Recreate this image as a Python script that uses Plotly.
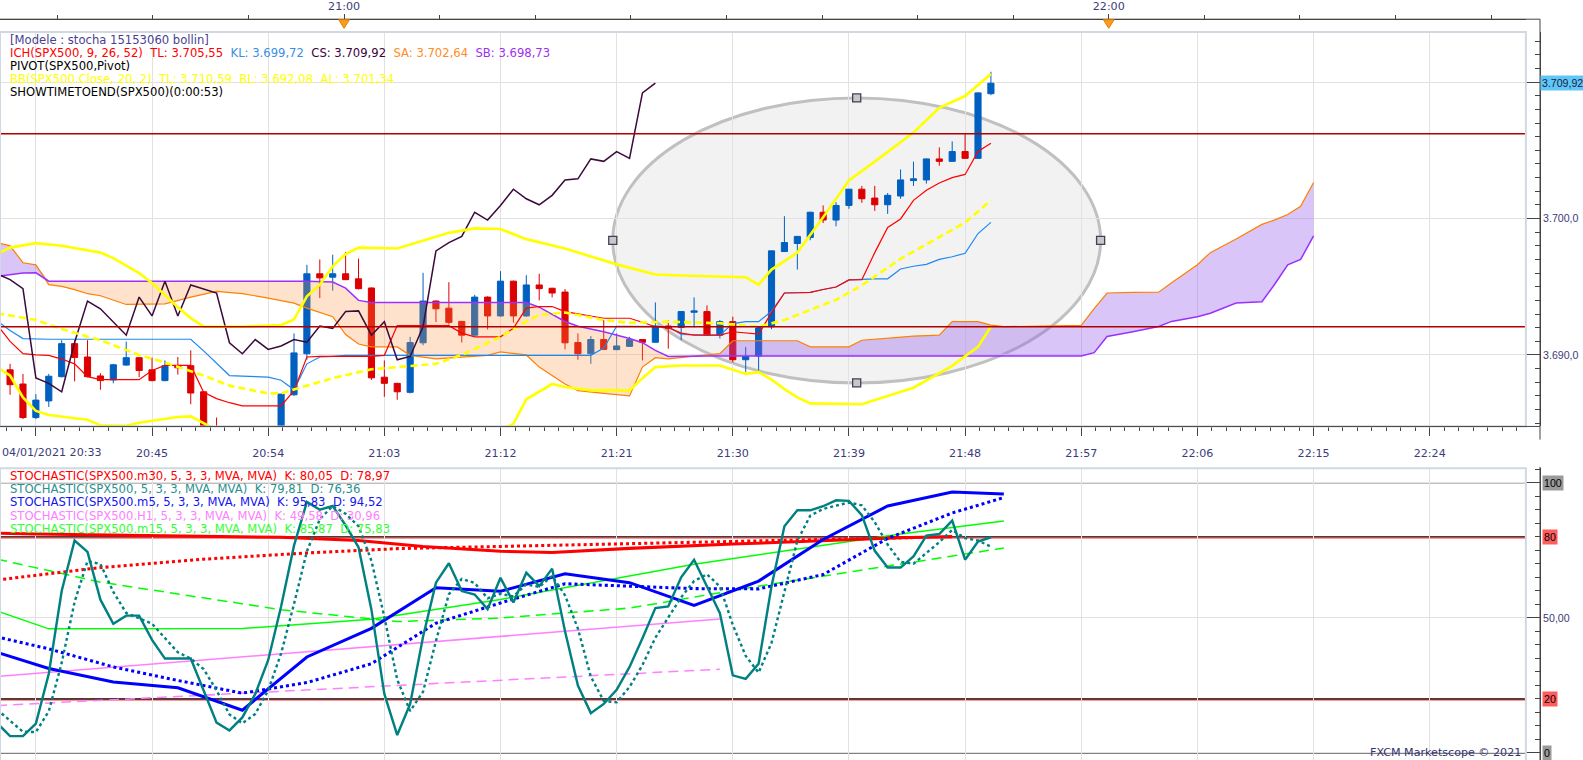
import plotly.graph_objects as go

# ---------------------------------------------------------------- data
# x values are minutes after 20:00, one candle per minute (20:33 .. 21:50)
bar_min = list(range(33, 111))

opens = [3688.69, 3688.91, 3687.87, 3685.41, 3686.63, 3688.41, 3690.83, 3689.85, 3688.46, 3688.17,
         3689.26, 3689.80, 3688.91, 3688.12, 3689.23, 3689.21, 3687.30, 3684.50, None, None,
         None, None, 3684.30, 3687.08, 3690.09, 3695.95, 3695.70, 3695.95, 3695.58, 3694.91,
         3688.37, 3687.92, 3687.26, 3690.89, 3693.95, 3693.43, 3692.46, 3691.45, 3694.24, 3692.86,
         3695.41, 3692.86, 3695.13, 3694.89, 3694.61, 3690.91, 3690.09, 3691.13, 3690.39, 3690.63,
         3691.13, 3690.93, 3692.12, 3692.02, 3693.13, 3693.18, 3691.45, 3692.44, 3689.65, 3689.92,
         3692.07, 3697.58, 3698.17, 3698.61, 3700.46, 3699.89, 3700.96, 3702.15, 3701.50, 3701.01,
         3701.65, 3702.78, 3702.83, 3704.37, 3704.19, 3704.91, 3704.41, 3709.15]
highs = [3689.72, 3689.35, 3688.61, 3687.13, 3688.61, 3691.08, 3691.08, 3691.08, 3688.66, 3689.35,
         3690.98, 3689.85, 3689.80, 3689.60, 3689.85, 3690.34, 3687.35, 3685.41, None, None,
         None, None, 3687.13, 3691.58, 3696.61, 3697.00, 3697.35, 3697.55, 3697.06, 3694.95,
         3689.60, 3687.95, 3691.33, 3696.02, 3694.00, 3695.33, 3692.50, 3694.41, 3694.30, 3696.15,
         3695.45, 3695.85, 3695.95, 3694.92, 3694.83, 3691.58, 3691.38, 3692.56, 3691.58, 3691.33,
         3691.15, 3693.85, 3692.56, 3693.20, 3694.22, 3693.63, 3692.56, 3692.81, 3690.59, 3692.10,
         3697.65, 3700.17, 3698.72, 3700.50, 3700.96, 3701.20, 3702.17, 3702.39, 3702.39, 3701.87,
         3703.60, 3704.17, 3704.40, 3705.21, 3705.65, 3706.19, 3709.25, 3710.76]
lows = [3688.46, 3687.08, 3685.30, 3685.30, 3686.19, 3688.35, 3688.07, 3688.35, 3687.45, 3687.92,
        3689.20, 3688.37, 3688.07, 3688.07, 3688.56, 3686.39, 3684.00, 3683.00, None, None,
        None, None, 3684.00, 3687.00, 3689.65, 3694.17, 3694.71, 3695.48, 3694.80, 3688.17,
        3686.93, 3686.71, 3687.18, 3690.71, 3692.41, 3692.24, 3690.91, 3691.40, 3691.87, 3692.80,
        3692.37, 3692.80, 3694.00, 3694.22, 3690.41, 3689.65, 3689.35, 3690.35, 3690.35, 3690.60,
        3689.60, 3690.90, 3690.46, 3691.08, 3692.02, 3691.40, 3691.21, 3689.43, 3688.74, 3688.86,
        3691.89, 3697.55, 3696.26, 3698.41, 3699.67, 3699.43, 3700.71, 3701.15, 3700.56, 3700.34,
        3701.45, 3702.39, 3702.56, 3703.87, 3704.15, 3704.38, 3704.38, 3709.04]
closes = [3689.21, 3687.82, 3685.41, 3686.69, 3688.44, 3690.83, 3689.82, 3688.41, 3688.12, 3689.28,
          3689.80, 3688.86, 3688.12, 3689.21, 3689.06, 3687.21, 3684.50, 3683.40, None, None,
          None, None, 3687.13, 3690.15, 3695.95, 3695.65, 3695.95, 3695.52, 3694.86, 3688.32,
          3687.92, 3687.30, 3690.91, 3693.95, 3693.38, 3692.39, 3691.45, 3694.24, 3692.86, 3695.41,
          3692.86, 3695.13, 3694.86, 3694.54, 3690.89, 3690.09, 3691.13, 3690.41, 3690.66, 3691.13,
          3690.93, 3692.12, 3691.95, 3693.18, 3693.23, 3691.45, 3692.44, 3689.65, 3689.89, 3692.07,
          3697.63, 3698.24, 3698.69, 3700.46, 3699.89, 3700.96, 3702.15, 3701.45, 3701.01, 3701.70,
          3702.83, 3702.91, 3704.37, 3704.19, 3704.91, 3704.41, 3709.21, 3709.92]

# ichimoku, per candle
tenkan = [3692.20, 3691.00, 3690.09, 3690.00, 3689.97, 3689.70, 3689.35, 3688.41, 3688.19, 3688.19,
          3688.19, 3688.19, 3688.86, 3689.23, 3689.23, 3689.23, 3687.26, 3686.80, 3686.50, 3686.27,
          3686.27, 3686.27, 3686.27, 3687.38, 3689.85, 3689.90, 3689.90, 3689.90, 3689.90, 3689.90,
          3689.97, 3692.15, 3692.15, 3692.15, 3692.15, 3692.15, 3691.60, 3691.33, 3691.33, 3691.33,
          3691.95, 3693.43, 3693.55, 3693.55, 3693.18, 3693.00, 3692.85, 3692.69, 3692.69, 3692.69,
          3692.40, 3692.07, 3692.00, 3691.60, 3691.45, 3691.45, 3691.45, 3691.70, 3691.60, 3691.52,
          3693.10, 3694.54, 3694.56, 3694.59, 3694.80, 3694.98, 3695.50, 3695.52, 3697.50, 3699.35,
          3699.97, 3701.33, 3702.07, 3702.60, 3703.00, 3703.23, 3704.91, 3705.52]
kijun = [3692.50, 3691.80, 3691.20, 3691.15, 3691.15, 3691.15, 3691.15, 3691.15, 3691.15, 3691.15,
         3691.15, 3691.15, 3691.15, 3691.15, 3691.15, 3691.15, 3690.30, 3689.40, 3688.49, 3688.45,
         3688.40, 3688.37, 3688.15, 3687.45, 3689.35, 3689.85, 3689.90, 3689.97, 3689.97, 3689.97,
         3689.97, 3689.97, 3689.97, 3689.97, 3689.97, 3689.97, 3689.97, 3689.97, 3689.97, 3689.97,
         3689.97, 3689.97, 3689.97, 3689.97, 3689.97, 3689.97, 3689.97, 3690.50, 3692.10, 3692.10,
         3692.10, 3692.07, 3692.07, 3691.50, 3691.45, 3691.45, 3691.45, 3692.30, 3692.44, 3692.44,
         3693.20, 3694.54, 3694.56, 3694.59, 3694.80, 3694.98, 3695.50, 3695.55, 3695.57, 3695.58,
         3696.30, 3696.50, 3696.64, 3697.01, 3697.20, 3697.45, 3698.90, 3699.72]

# kumo (senkou A / B), projected 26 bars ahead
cloud_min = [33, 34, 35, 36, 37, 38, 39, 40, 41, 43, 46, 48, 50, 52, 54, 56, 57, 59, 60, 61,
             62, 64, 65, 67, 71, 72, 74, 75, 77, 78, 80, 82, 83, 84, 85, 88, 89, 90, 95, 96,
             99, 100, 104, 106, 107, 109, 110, 111, 117, 118, 119, 121, 123, 124, 126, 127, 129, 131, 132, 133,
             134, 135]
senkou_a = [3698.24, 3698.00, 3696.76, 3696.60, 3695.15, 3695.03, 3694.79, 3694.49, 3694.34, 3693.70,
            3693.75, 3694.24, 3694.66, 3694.49, 3694.17, 3693.80, 3693.43, 3692.80, 3691.50, 3690.80,
            3690.59, 3690.59, 3689.97, 3689.72, 3689.97, 3690.22, 3690.00, 3689.11, 3687.87, 3687.38,
            3687.18, 3687.00, 3689.11, 3689.80, 3689.72, 3689.97, 3690.09, 3691.04, 3691.04, 3690.59,
            3690.59, 3691.08, 3691.38, 3691.45, 3692.44, 3692.44, 3692.19, 3692.07, 3692.17, 3693.40,
            3694.54, 3694.58, 3694.60, 3695.30, 3696.61, 3697.50, 3698.50, 3699.57, 3699.90, 3700.30,
            3700.90, 3702.64]
senkou_b = [3695.77, 3695.90, 3696.00, 3696.02, 3695.41, 3695.41, 3695.41, 3695.41, 3695.41, 3695.41,
            3695.41, 3695.41, 3695.41, 3695.41, 3695.41, 3695.41, 3695.41, 3695.35, 3694.90, 3694.00,
            3693.85, 3693.85, 3693.85, 3693.85, 3693.85, 3693.85, 3693.85, 3693.50, 3692.45, 3692.10,
            3691.70, 3691.21, 3690.90, 3690.34, 3689.89, 3689.92, 3689.92, 3689.92, 3689.92, 3689.92,
            3689.92, 3689.92, 3689.92, 3689.92, 3689.92, 3689.92, 3689.92, 3689.92, 3689.92, 3690.17,
            3691.35, 3691.70, 3692.09, 3692.46, 3692.80, 3693.06, 3693.80, 3693.90, 3695.20, 3696.60,
            3697.00, 3698.73]

# bollinger (20, 2)
bb_up_min = [33, 34, 36, 38, 41, 42, 44, 45, 46, 47, 48, 49, 52, 55, 56, 57, 58, 59, 60, 61,
             64, 65, 66, 68, 70, 72, 74, 77, 81, 84, 86, 91, 92, 93, 95, 97, 99, 101, 104, 106,
             108, 110]
bb_up = [3697.40, 3697.87, 3698.20, 3698.00, 3697.50, 3697.10, 3696.00, 3695.28, 3694.40, 3693.50,
         3692.70, 3692.07, 3692.07, 3692.19, 3692.60, 3694.30, 3695.15, 3696.50, 3697.40, 3697.87,
         3697.80, 3698.10, 3698.40, 3698.95, 3699.28, 3699.23, 3698.49, 3697.80, 3696.64, 3695.90,
         3695.82, 3695.70, 3695.15, 3696.26, 3697.50, 3700.10, 3702.80, 3704.17, 3706.30, 3708.12,
         3708.98, 3710.59]
bb_lo_min = [33, 34, 35, 36, 37, 40, 41, 43, 44, 46, 47, 48, 49, 50, 61, 72, 73, 74, 76, 77,
             79, 82, 83, 84, 86, 89, 91, 92, 93, 94, 95, 96, 100, 104, 107, 109, 110]
bb_lo = [3689.11, 3688.49, 3686.89, 3685.90, 3685.60, 3685.25, 3684.85, 3684.80, 3685.03, 3685.30,
         3685.45, 3685.50, 3685.00, 3684.50, None, 3684.50, 3684.95, 3686.75, 3687.87, 3687.65,
         3687.40, 3687.40, 3688.30, 3689.11, 3689.23, 3689.23, 3688.61, 3688.74, 3688.20, 3687.50,
         3686.89, 3686.45, 3686.39, 3687.60, 3689.20, 3690.59, 3692.08]
bb_mid_min = [33, 36, 38, 41, 44, 46, 49, 51, 54, 55, 57, 59, 62, 64, 67, 69, 72, 74, 75, 77,
              80, 82, 85, 89, 92, 94, 96, 98, 100, 103, 105, 108, 110]
bb_mid = [3693.06, 3692.56, 3691.90, 3691.08, 3690.00, 3689.45, 3688.49, 3687.75, 3687.18, 3687.18,
          3687.75, 3688.30, 3688.95, 3689.10, 3689.35, 3690.00, 3691.33, 3692.45, 3692.94, 3693.11,
          3692.56, 3692.35, 3692.44, 3692.32, 3692.07, 3692.56, 3693.30, 3694.04, 3695.10, 3697.05,
          3698.11, 3699.70, 3701.34]

pivot_levels = [3706.22, 3692.07]
last_price = 3709.92

# drawn ellipse (time, price bounds)
ellipse_min = [80.7, 118.5]
ellipse_px = [3687.95, 3708.84]

# stochastic, 1 minute (teal), per candle
st1_k = [11.0, 6.2, 6.2, 10.8, 29.3, 59.9, 78.6, 74.4, 56.7, 47.8,
         50.8, 50.8, 41.8, 34.9, 34.9, 34.9, 23.1, 11.2, 8.3, 13.1,
         21.8, 34.3, 54.2, 76.7, 92.9, 90.0, 91.4, 84.2, 76.1, 53.0,
         21.8, 6.6, 18.1, 43.0, 63.0, 70.2, 59.9, 58.6, 53.2, 64.8,
         55.7, 66.7, 61.7, 68.2, 45.0, 24.9, 14.7, 18.1, 23.3, 31.8,
         42.4, 53.6, 54.2, 65.0, 71.5, 61.7, 51.7, 28.7, 27.4, 33.0,
         61.7, 83.9, 89.8, 89.8, 91.3, 93.5, 93.3, 88.0, 74.8, 68.6,
         68.6, 72.7, 80.4, 81.0, 86.0, 71.5, 78.2, 79.81]
st1_d = [16.0, 12.0, 7.8, 7.7, 15.4, 33.3, 55.9, 71.0, 69.9, 59.6,
         51.8, 49.8, 47.8, 42.5, 37.2, 34.9, 31.0, 23.1, 14.2, 10.9,
         14.4, 23.1, 36.8, 55.1, 74.6, 86.5, 91.4, 88.5, 83.9, 71.1,
         50.3, 27.1, 15.5, 22.6, 41.4, 58.7, 64.4, 62.9, 57.2, 58.9,
         57.9, 62.4, 61.4, 65.5, 58.3, 46.0, 28.2, 19.2, 18.7, 24.4,
         32.5, 42.6, 50.1, 57.6, 63.6, 66.1, 61.6, 47.4, 35.9, 29.7,
         40.7, 59.5, 78.5, 87.8, 90.3, 91.5, 92.7, 91.6, 85.4, 77.1,
         70.7, 70.0, 73.9, 78.0, 82.5, 79.5, 78.6, 76.36]

# higher time frame stochastics
m5_min = [32, 37, 42, 47, 52, 57, 62, 67, 72, 77, 82, 87, 92, 97, 102, 107, 111]
m5_k = [38.7, 31.2, 26.2, 24.1, 15.8, 35.5, 46.1, 61.1, 59.8, 66.3, 63.0, 54.6, 63.6, 79.0, 91.4, 96.6, 95.83]
m5_d = [44.0, 38.5, 31.8, 26.8, 22.1, 26.0, 33.0, 48.0, 55.5, 62.6, 61.7, 60.8, 60.7, 66.0, 79.4, 88.8, 94.52]

m30_k_min = [33, 36, 55, 61, 66, 72, 76, 82, 90, 95, 100, 103, 107]
m30_k = [81.3, 81.0, 79.8, 78.6, 76.4, 74.6, 74.2, 75.7, 77.3, 78.2, 79.2, 79.6, 80.05]
m30_d_min = [33, 41, 49, 57, 64, 72, 79, 87, 95, 100, 104]
m30_d = [64.0, 68.6, 71.7, 74.0, 75.6, 76.4, 77.3, 77.9, 78.8, 79.4, 79.7]

m15_k_min = [33, 37, 52, 62, 72, 87, 103, 111]
m15_k = [52.5, 45.9, 46.0, 49.5, 56.8, 69.8, 81.0, 85.87]
m15_d_min = [33, 41, 55, 64, 72, 77, 82, 92, 111]
m15_d = [71.7, 63.2, 53.0, 48.6, 49.9, 51.7, 53.6, 61.7, 75.83]

h1_min = [33, 72, 89]
h1_k = [28.3, 43.0, 49.58]
h1_d = [17.5, 26.8, 30.96]

# axis labels
tick_min = [36, 45, 54, 63, 72, 81, 90, 99, 108, 117, 126, 135, 144]
tick_lbl = ['04/01/2021 20:33', '20:45', '20:54', '21:03', '21:12', '21:21', '21:30',
            '21:39', '21:48', '21:57', '22:06', '22:15', '22:24']
hour_min = [60, 120]
hour_lbl = ['21:00', '22:00']

# ---------------------------------------------------------------- layout helpers
# geometry is measured on the 1583x760 picture; the page is captured ~1% smaller than
# its css size, so the figure is built 1% larger (K) and everything pixel based scales with it
RW, RH = 1583, 760
K = 1599 / 1583
W, H = round(RW * K), round(RH * K)
AX_R = 1525      # right axis line (picture px)
PANEL_R = 1511   # right edge of chart area (picture px)
FONT = 'DejaVu Sans'
AXFONT = 'Liberation Sans'   # narrower, so the right-hand labels stay inside the window
NB = '\u00a0\u00a0'


def px(x):
    return x / AX_R


def py(y):
    return 1 - y / RH


def s(v):
    return v * K


BLUE, RED = '#0060c0', '#dd0000'
fig = go.Figure()

fig.add_trace(go.Candlestick(
    x=bar_min, open=opens, high=highs, low=lows, close=closes, whiskerwidth=0,
    increasing=dict(line=dict(color=BLUE, width=1), fillcolor=BLUE),
    decreasing=dict(line=dict(color=RED, width=1), fillcolor=RED),
    hoverinfo='skip', showlegend=False))

# cloud: lavender where A above B, peach where B above A
cloud_top = [max(a, b) for a, b in zip(senkou_a, senkou_b)]
for base, col in ((senkou_b, 'rgba(150,90,235,0.35)'), (senkou_a, 'rgba(250,150,70,0.28)')):
    fig.add_trace(go.Scatter(x=cloud_min, y=base, mode='lines', line=dict(width=0), hoverinfo='skip'))
    fig.add_trace(go.Scatter(x=cloud_min, y=cloud_top, mode='lines', line=dict(width=0),
                             fill='tonexty', fillcolor=col, hoverinfo='skip'))


def line(x, y, color, width=1.2, dash=None, xa='x', ya='y'):
    fig.add_trace(go.Scatter(x=x, y=y, mode='lines', xaxis=xa, yaxis=ya, hoverinfo='skip',
                             line=dict(color=color, width=s(width), dash=dash)))


line(cloud_min, senkou_a, '#ff7f00', 1.2)
line(cloud_min, senkou_b, '#9b30ff', 1.5)
line(bar_min, kijun, '#1e88f0', 1.2)
line(bar_min, tenkan, '#ff0000', 1.2)
line(bar_min[:-26], closes[26:], '#3c0a3c', 1.5)   # chikou span
line(bb_up_min, bb_up, '#ffff00', 2.6)
line(bb_lo_min, bb_lo, '#ffff00', 2.6)
line(bb_mid_min, bb_mid, '#ffff00', 2.6, '7px,4px')

# ellipse handles
ex_c = sum(ellipse_min) / 2
ey_c = sum(ellipse_px) / 2
fig.add_trace(go.Scatter(
    x=[ellipse_min[0], ellipse_min[1], ex_c, ex_c], y=[ey_c, ey_c, ellipse_px[1], ellipse_px[0]],
    mode='markers', hoverinfo='skip',
    marker=dict(symbol='square', size=s(8), color='#c8c8c8', line=dict(color='#40405a', width=1.3))))

# stochastics
line(h1_min, h1_k, '#ff80ff', 1.5, xa='x2', ya='y2')
line(h1_min, h1_d, '#ff80ff', 1.5, '10px,6px', xa='x2', ya='y2')
line(m15_k_min, m15_k, '#00ff00', 1.5, xa='x2', ya='y2')
line(m15_d_min, m15_d, '#00ff00', 1.5, '10px,6px', xa='x2', ya='y2')
line(m30_d_min, m30_d, '#ff0000', 3, 'dot', xa='x2', ya='y2')
line(m30_k_min, m30_k, '#ff0000', 3, xa='x2', ya='y2')
line(m5_min, m5_d, '#0000ff', 3, 'dot', xa='x2', ya='y2')
line(m5_min, m5_k, '#0000ff', 3, xa='x2', ya='y2')
line(bar_min, st1_d, '#008080', 2.4, 'dot', xa='x2', ya='y2')
line(bar_min, st1_k, '#008080', 2.4, xa='x2', ya='y2')

# empty trace so the top time axis is drawn
fig.add_trace(go.Scatter(x=hour_min, y=[None, None], xaxis='x3', yaxis='y', hoverinfo='skip'))

# ---------------------------------------------------------------- shapes
shapes = []
shapes.append(dict(type='circle', xref='x', yref='y', x0=ellipse_min[0], x1=ellipse_min[1],
                   y0=ellipse_px[0], y1=ellipse_px[1], layer='below',
                   fillcolor='#f2f2f2', line=dict(color='#c0c0c0', width=3)))
for lv in pivot_levels:
    shapes.append(dict(type='line', xref='paper', yref='y', x0=0, x1=px(PANEL_R), y0=lv, y1=lv,
                       line=dict(color='#b00000', width=1.5)))
for lv, red in ((100, False), (80, True), (20, True), (0, False)):
    if red:
        shapes.append(dict(type='line', xref='paper', yref='y2', x0=0, x1=px(PANEL_R), y0=lv - 0.4,
                           y1=lv - 0.4, line=dict(color='#ff3030', width=1.2), layer='below'))
    shapes.append(dict(type='line', xref='paper', yref='y2', x0=0, x1=px(PANEL_R), y0=lv, y1=lv,
                       line=dict(color='#000000', width=1.2), layer='below'))
# panel frames
for top, bot in ((31.7, 422), (463.3, 757)):
    shapes.append(dict(type='rect', xref='paper', yref='paper', x0=px(0), x1=px(PANEL_R),
                       y0=py(bot), y1=py(top), line=dict(color='#d0d8e2', width=2)))
# axis line extensions
shapes.append(dict(type='line', xref='paper', yref='paper', x0=0, x1=1, y0=py(19), y1=py(19),
                   line=dict(color='#444', width=1)))
shapes.append(dict(type='line', xref='paper', yref='paper', x0=0, x1=1, y0=py(422), y1=py(422),
                   line=dict(color='#444', width=1)))
shapes.append(dict(type='line', xref='paper', yref='paper', x0=1, x1=1, y0=py(435), y1=py(19),
                   line=dict(color='#444', width=1)))
shapes.append(dict(type='line', xref='paper', yref='paper', x0=1, x1=1, y0=py(760), y1=py(462),
                   line=dict(color='#444', width=1)))
# orange hour markers on the top axis
for hm in hour_min:
    shapes.append(dict(type='path', xref='x3', yref='paper', fillcolor='#ff9a1a',
                       line=dict(color='#e08000', width=1),
                       path=f'M {hm - 0.42},{py(19.5)} L {hm + 0.42},{py(19.5)} L {hm},{py(28)} Z'))

# ---------------------------------------------------------------- annotations
ann = []


def txt(x, y, t, color, size=11.5, anchor='left', family=FONT):
    ann.append(dict(xref='paper', yref='paper', x=px(x), y=py(y), text=t, showarrow=False,
                    xanchor=anchor, yanchor='middle', font=dict(family=family, size=s(size), color=color)))


txt(8, 39.5, '[Modele : stocha 15153060 bollin]', '#4b3f8f')
txt(8, 52.5, '<span style="color:#ff0000">ICH(SPX500, 9, 26, 52)' + NB + 'TL: 3.705,55</span>' + NB +
    '<span style="color:#3a8ee6">KL: 3.699,72</span>' + NB +
    '<span style="color:#3c003c">CS: 3.709,92</span>' + NB +
    '<span style="color:#ff8c28">SA: 3.702,64</span>' + NB +
    '<span style="color:#a030f0">SB: 3.698,73</span>', '#ff0000')
txt(8, 65, 'PIVOT(SPX500,Pivot)', '#000000')
txt(8, 78, 'BB(SPX500.Close, 20, 2)' + NB + 'TL: 3.710,59' + NB + 'BL: 3.692,08' + NB + 'AL: 3.701,34', '#ffff00')
txt(8, 91, 'SHOWTIMETOEND(SPX500)(0:00:53)', '#000000')

stoch_rows = [
    ('STOCHASTIC(SPX500.m30, 5, 3, 3, MVA, MVA)' + NB + 'K: 80,05' + NB + 'D: 78,97', '#ff0000'),
    ('STOCHASTIC(SPX500, 5, 3, 3, MVA, MVA)' + NB + 'K: 79,81' + NB + 'D: 76,36', '#2b8f8f'),
    ('STOCHASTIC(SPX500.m5, 5, 3, 3, MVA, MVA)' + NB + 'K: 95,83' + NB + 'D: 94,52', '#1414f0'),
    ('STOCHASTIC(SPX500.H1, 5, 3, 3, MVA, MVA)' + NB + 'K: 49,58' + NB + 'D: 30,96', '#ff80ff'),
    ('STOCHASTIC(SPX500.m15, 5, 3, 3, MVA, MVA)' + NB + 'K: 85,87' + NB + 'D: 75,83', '#33ff33'),
]
for i, (t, c) in enumerate(stoch_rows):
    txt(8, 471 + i * 13.1, t, c)

txt(0, 448, tick_lbl[0], '#3b3b7a', size=11)
txt(1508, 745, 'FXCM Marketscope © 2021', '#33336e', size=11, anchor='right')

ann.append(dict(xref='paper', yref='y', x=1, y=last_price, text='3.709,92', showarrow=False,
                xanchor='left', yanchor='middle', xshift=0, bgcolor='#5fc7f7', borderpad=1,
                font=dict(family=AXFONT, size=s(10.5), color='#1a1a40')))
for lv, bg in ((100, '#9a9a9a'), (80, '#ff5c5c'), (20, '#ff5c5c'), (0, '#9a9a9a')):
    ann.append(dict(xref='paper', yref='y2', x=1, y=lv, text=str(lv), showarrow=False,
                    xanchor='left', yanchor='middle', xshift=s(2), bgcolor=bg, borderpad=1,
                    font=dict(family=AXFONT, size=s(10.5), color='#000000')))

# ---------------------------------------------------------------- axes
axis_font = dict(family=FONT, size=s(11), color='#3b3b7a')
raxis_font = dict(family=AXFONT, size=s(10.5), color='#3b3b7a')
grid = '#e2e2e2'
xdom = [0, px(PANEL_R)]
xrange = [33.22, 151.45]

# width/height come from the div (see write_html below)
fig.update_layout(
    margin=dict(l=0, r=W - AX_R * K, t=0, b=0, autoexpand=False),
    paper_bgcolor='white', plot_bgcolor='white', showlegend=False, boxgap=0.32,
    font=dict(family=FONT, size=s(11)), shapes=shapes, annotations=ann,
    xaxis=dict(domain=xdom, range=xrange, anchor='y', tickmode='array', tickvals=tick_min,
               ticktext=[''] + tick_lbl[1:], ticks='outside', ticklen=s(8), tickcolor='#444',
               showline=True, linecolor='#444', showgrid=True, gridcolor=grid, zeroline=False,
               rangeslider=dict(visible=False), tickfont=axis_font, ticklabelstandoff=8,
               minor=dict(tickmode='linear', tick0=36, dtick=1.125, ticks='outside', ticklen=s(4),
                          tickcolor='#444', showgrid=False)),
    xaxis2=dict(domain=xdom, range=xrange, anchor='y2', matches='x', showticklabels=False,
                tickmode='array', tickvals=tick_min, ticks='', showgrid=True, gridcolor=grid,
                zeroline=False, showline=False),
    xaxis3=dict(overlaying='x', side='top', anchor='free', position=py(19), range=[33.0, 152.73],
                tickmode='array', tickvals=hour_min, ticktext=hour_lbl, ticks='outside', ticklen=s(5),
                tickcolor='#444', showline=True, linecolor='#444', showgrid=False, zeroline=False,
                tickfont=axis_font,
                minor=dict(tickmode='linear', tick0=0, dtick=7.5, ticks='outside', ticklen=s(4),
                           tickcolor='#444', showgrid=False)),
    yaxis=dict(domain=[py(422), py(31.7)], range=[3684.76, 3713.67], side='right', anchor='free',
               position=1, tickmode='array', tickvals=[3690, 3700, 3710],
               ticktext=['3.690,0', '3.700,0', ''], ticks='inside', ticklen=s(14),
               tickcolor='#444', showline=True, linecolor='#444', showgrid=True, gridcolor=grid,
               zeroline=False, tickfont=raxis_font,
               minor=dict(tickmode='linear', tick0=3680, dtick=1, ticks='inside', ticklen=s(5),
                          tickcolor='#444', showgrid=False)),
    yaxis2=dict(domain=[py(757), py(463.3)], range=[-4.49, 105.39], side='right', anchor='free',
                position=1, tickmode='array', tickvals=[0, 50, 100], ticktext=['', '50,00', ''],
                ticks='inside', ticklen=s(14), tickcolor='#444', showline=True, linecolor='#444',
                showgrid=True, gridcolor=grid, zeroline=False, tickfont=raxis_font,
                minor=dict(tickmode='linear', tick0=0, dtick=5, ticks='inside', ticklen=s(5),
                           tickcolor='#444', showgrid=False)),
)

# pin the plot div to the window origin so the page's default body margin does not move it
fig.write_html("out.html", config={'displayModeBar': False},
               default_width=f'{W}px', default_height=f'{H}px;position:absolute;left:0;top:0')
